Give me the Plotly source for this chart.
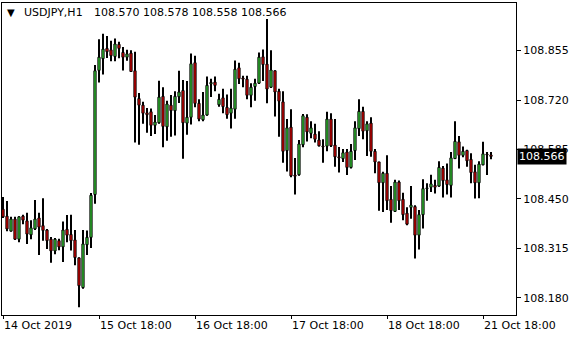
import plotly.graph_objects as go

opens = [108.422,108.403,108.362,108.395,108.340,108.403,108.390,108.352,108.368,108.398,
         108.377,108.365,108.340,108.308,108.336,108.319,108.367,108.353,108.338,108.289,
         108.208,108.325,108.345,108.462,108.801,108.833,108.861,108.857,108.839,108.872,
         108.850,108.837,108.848,108.800,108.724,108.706,108.685,108.688,108.651,108.658,
         108.730,108.647,108.706,108.691,108.729,108.746,108.657,108.673,108.822,108.711,
         108.666,108.679,108.764,108.769,108.707,108.726,108.700,108.684,108.695,108.808,
         108.780,108.777,108.733,108.757,108.766,108.838,108.818,108.755,108.800,108.744,
         108.715,108.582,108.646,108.515,108.516,108.598,108.673,108.629,108.627,108.611,
         108.594,108.594,108.668,108.597,108.565,108.560,108.578,108.536,108.582,108.642,
         108.689,108.636,108.657,108.580,108.551,108.494,108.520,108.449,108.416,108.496,
         108.449,108.411,108.427,108.429,108.351,108.407,108.478,108.482,108.487,108.485,
         108.534,108.502,108.487,108.560,108.606,108.569,108.582,108.558,108.524,108.494,
         108.543,108.572,108.570]
highs = [108.455,108.444,108.401,108.401,108.403,108.407,108.412,108.392,108.447,108.412,
         108.452,108.368,108.346,108.343,108.341,108.388,108.406,108.407,108.365,108.290,
         108.365,108.364,108.466,108.816,108.886,108.901,108.895,108.882,108.888,108.879,
         108.865,108.857,108.856,108.852,108.739,108.715,108.698,108.697,108.679,108.773,
         108.755,108.718,108.734,108.744,108.800,108.775,108.772,108.847,108.841,108.722,
         108.742,108.784,108.778,108.784,108.737,108.751,108.735,108.751,108.828,108.822,
         108.786,108.786,108.766,108.778,108.850,108.858,108.941,108.856,108.801,108.751,
         108.744,108.668,108.695,108.562,108.611,108.682,108.681,108.662,108.655,108.635,
         108.613,108.688,108.684,108.668,108.592,108.586,108.586,108.600,108.662,108.722,
         108.702,108.662,108.673,108.586,108.551,108.524,108.569,108.485,108.502,108.500,
         108.467,108.427,108.485,108.433,108.420,108.504,108.493,108.516,108.502,108.553,
         108.540,108.547,108.578,108.662,108.622,108.593,108.584,108.575,108.543,108.553,
         108.606,108.578,108.578]
lows = [108.398,108.362,108.361,108.338,108.332,108.381,108.327,108.340,108.365,108.297,
        108.336,108.313,108.276,108.299,108.310,108.278,108.332,108.309,108.269,108.154,
        108.205,108.297,108.316,108.437,108.768,108.790,108.835,108.826,108.826,108.834,
        108.801,108.827,108.797,108.604,108.598,108.655,108.631,108.622,108.627,108.655,
        108.591,108.609,108.620,108.623,108.712,108.560,108.625,108.653,108.700,108.662,
        108.662,108.677,108.728,108.744,108.702,108.684,108.669,108.642,108.669,108.764,
        108.755,108.722,108.700,108.718,108.764,108.772,108.711,108.753,108.675,108.620,
        108.549,108.525,108.509,108.462,108.513,108.591,108.607,108.616,108.604,108.593,
        108.549,108.580,108.592,108.538,108.522,108.551,108.515,108.533,108.556,108.622,
        108.613,108.567,108.565,108.520,108.418,108.414,108.420,108.385,108.414,108.420,
        108.392,108.378,108.396,108.287,108.312,108.369,108.445,108.469,108.465,108.483,
        108.454,108.462,108.454,108.560,108.533,108.564,108.538,108.493,108.451,108.452,
        108.542,108.515,108.558]
closes = [108.401,108.368,108.395,108.340,108.401,108.392,108.354,108.371,108.395,108.373,
          108.364,108.336,108.308,108.340,108.319,108.365,108.351,108.336,108.290,108.213,
          108.327,108.345,108.460,108.800,108.837,108.859,108.852,108.841,108.873,108.861,
          108.837,108.846,108.798,108.728,108.706,108.684,108.680,108.651,108.660,108.728,
          108.648,108.709,108.691,108.730,108.742,108.658,108.673,108.819,108.711,108.668,
          108.679,108.760,108.768,108.760,108.722,108.702,108.680,108.698,108.804,108.778,
          108.777,108.733,108.755,108.766,108.837,108.817,108.750,108.802,108.742,108.717,
          108.580,108.644,108.513,108.512,108.600,108.677,108.633,108.644,108.613,108.595,
          108.592,108.668,108.595,108.565,108.562,108.576,108.536,108.580,108.644,108.689,
          108.635,108.655,108.580,108.551,108.494,108.520,108.445,108.418,108.496,108.445,
          108.407,108.381,108.433,108.351,108.407,108.478,108.480,108.491,108.482,108.536,
          108.500,108.489,108.562,108.607,108.569,108.580,108.554,108.522,108.494,108.545,
          108.573,108.570,108.566]

x_tick_index = [0, 24, 48, 72, 96, 120]
x_tick_labels = ["14 Oct 2019", "15 Oct 18:00", "16 Oct 18:00", "17 Oct 18:00",
                 "18 Oct 18:00", "21 Oct 18:00"]
y_ticks = [108.180, 108.315, 108.450, 108.585, 108.720, 108.855]
symbol = "USDJPY,H1"
last_price = 108.566

n = len(opens)
idx = list(range(n))
body_base = [min(o, c) for o, c in zip(opens, closes)]
body_len = [abs(c - o) for o, c in zip(opens, closes)]
body_col = ["#3ADF3A" if c > o else "#F00000" for o, c in zip(opens, closes)]

fig = go.Figure()
fig.add_trace(go.Bar(x=idx, y=[h - l for h, l in zip(highs, lows)], base=lows,
                     width=0.25, marker=dict(color="black", line=dict(width=0)),
                     hoverinfo="skip"))
fig.add_trace(go.Bar(x=idx, y=body_len, base=body_base, width=0.55,
                     marker=dict(color=body_col, line=dict(color="black", width=1))))

font = dict(family="DejaVu Sans", size=11, color="black")
fig.update_layout(
    width=580, height=340, barmode="overlay", showlegend=False,
    margin=dict(l=2, r=64, t=3, b=25),
    paper_bgcolor="white", plot_bgcolor="white", font=font,
    xaxis=dict(range=[-0.25, 128.25], tickmode="array", tickvals=x_tick_index,
               ticktext=x_tick_labels, ticks="outside", ticklen=3, tickcolor="black",
               ticklabelposition="outside right", showgrid=False, zeroline=False,
               showline=True, linecolor="black", linewidth=1, mirror=True,
               tickfont=font),
    yaxis=dict(range=[108.133, 108.985], side="right", tickmode="array",
               tickvals=y_ticks, ticktext=[f"{v:.3f}" for v in y_ticks],
               ticks="outside", ticklen=4, tickcolor="black", showgrid=False,
               zeroline=False, showline=True, linecolor="black", linewidth=1,
               mirror=True, tickfont=font),
)
fig.add_annotation(xref="paper", yref="paper", x=0.006, y=0.969, xanchor="left",
                   yanchor="middle", text="▼", showarrow=False,
                   font=dict(family="DejaVu Sans", size=10, color="black"))
fig.add_annotation(xref="paper", yref="paper", x=0.039, y=0.969, xanchor="left",
                   yanchor="middle", text=symbol, showarrow=False, font=font)
fig.add_annotation(xref="paper", yref="paper", x=0.175, y=0.969, xanchor="left",
                   yanchor="middle",
                   text=f"{opens[-1]:.3f} {highs[-1]:.3f} {lows[-1]:.3f} {closes[-1]:.3f}",
                   showarrow=False, font=font)
fig.add_annotation(xref="paper", yref="y", x=1, y=last_price, xanchor="left",
                   yanchor="middle", xshift=1, text=f"{last_price:.3f}", showarrow=False,
                   bgcolor="black", borderpad=1,
                   font=dict(family="DejaVu Sans", size=11, color="white"))
fig.write_html("out.html")
